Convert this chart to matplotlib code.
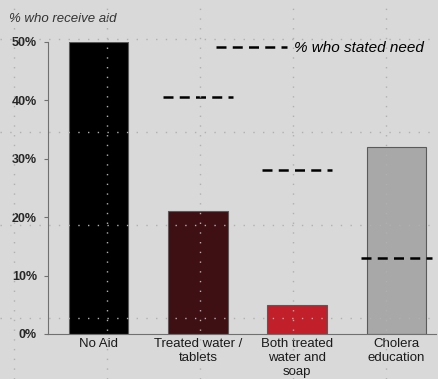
import numpy as np
import matplotlib
matplotlib.use("Agg")
import matplotlib.pyplot as plt

# data
categories = ["No Aid", "Treated water /\ntablets", "Both treated\nwater and\nsoap", "Cholera\neducation"]
receive_aid = [50, 21, 5, 32]
stated_need = [np.nan, 40.5, 28, 13]
bar_colors = ["#000000", "#3e0f13", "#c11f29", "#a8a8a8"]
yticks = [0, 10, 20, 30, 40, 50]

plt.rcParams['font.family'] = ['Liberation Sans', 'DejaVu Sans']

fig = plt.figure(figsize=(4.38, 3.79), dpi=100, facecolor="#d9d9d9")
ax = fig.add_axes([48/438, 45/379, 388/438, 292/379])
ax.set_facecolor("#d9d9d9")

x = np.arange(len(categories))
ax.bar(x, receive_aid, width=0.6, color=bar_colors, edgecolor="#5a5a5a", linewidth=0.8, zorder=2)
ax.hlines(stated_need, x - 0.355, x + 0.355, colors="black", linestyles=(0, (4, 2.5)),
          linewidth=1.8, zorder=3, label="% who stated need")

ax.set_xlim(-0.51, 3.4)
ax.set_ylim(0, 50)
ax.set_yticks(yticks)
ax.set_yticklabels([f"{v}%" for v in yticks], fontweight="bold", fontsize=9, color="#262626")
ax.set_xticks(x)
ax.set_xticklabels(categories, fontsize=9.5, color="#1a1a1a", linespacing=1.2)
ax.tick_params(axis="x", length=0, pad=3)
ax.tick_params(axis="y", length=3, color="#707070", pad=5)

for side in ["top", "right"]:
    ax.spines[side].set_visible(False)
ax.spines["left"].set_color("#707070")
ax.spines["bottom"].set_color("#707070")

fig.text(9/438, 1 - 19/379, "% who receive aid", fontsize=9.5, style="italic", color="#333333", va="center")

ax.legend(loc="center left", bbox_to_anchor=(0.432, 0.979), frameon=False,
          handlelength=4.7, handletextpad=0.4, borderpad=0, borderaxespad=0,
          prop={"style": "italic", "size": 11})

# dotted screen grid laid over the whole image
ov = fig.add_axes([0, 0, 1, 1], zorder=10)
ov.patch.set_visible(False)
ov.set_xlim(0, 438)
ov.set_ylim(379, 0)
ov.set_xticks(np.arange(14, 438, 93))
ov.set_yticks(np.arange(39, 379, 93))
ov.grid(True, color="#b0b0b0", linestyle=(0, (1, 6)), linewidth=1)
ov.tick_params(length=0, labelbottom=False, labelleft=False)
for s in ov.spines.values():
    s.set_visible(False)

fig.savefig("out.png", dpi=100, facecolor=fig.get_facecolor())
